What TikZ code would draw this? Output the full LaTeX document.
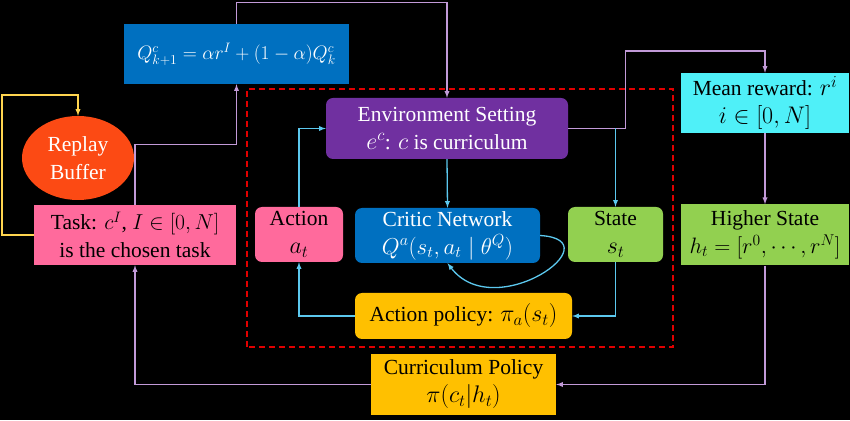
\documentclass[tikz,border=0pt]{standalone}
\usepackage{fix-cm}
\usepackage{fontspec}
\setmainfont{Liberation Serif}
\usetikzlibrary{arrows,shapes,backgrounds,calc,positioning}

\definecolor{qblue}{HTML}{0070C0}
\definecolor{envpurple}{HTML}{7030A0}
\definecolor{taskpink}{HTML}{FF6A9C}
\definecolor{stategreen}{HTML}{92D050}
\definecolor{policyorange}{HTML}{FFC000}
\definecolor{rewardcyan}{HTML}{4FF0F8}
\definecolor{bufferred}{HTML}{FC4A14}
\definecolor{lilac}{HTML}{C29AD8}
\definecolor{skyline}{HTML}{5CC8EE}
\definecolor{loopyellow}{HTML}{FFD54F}
\definecolor{borderred}{HTML}{E00000}

\newcommand{\mth}[2][24]{{\fontsize{#1}{27}\selectfont$#2$}}

\begin{document}
\begin{tikzpicture}[x=1pt, y=1pt, >=latex,
    box/.style={rectangle, align=center, inner sep=0pt, font=\rmfamily\fontsize{21.5}{28}\selectfont},
    rbox/.style={box, rounded corners=7pt},
    pline/.style={->, draw=lilac, line width=1.3pt},
    cline/.style={->, draw=skyline, line width=1.3pt}]

  \fill[black] (0,0) rectangle (850,420);

  % outer loop
  \node[box, fill=qblue, text=white, minimum width=225pt, minimum height=60pt] (Qupdate) at (236.5,366) {\mth[19.5]{Q^c_{k+1} = \alpha r^I + (1-\alpha) Q^c_k}};
  \node[box, fill=taskpink, minimum width=202pt, minimum height=60pt] (Task) at (135,185) {Task: \mth[21.6]{c^I}, \mth[21.6]{I \in [0,N]}\\is the chosen task};
  \node[ellipse, fill=bufferred, text=white, align=center, inner sep=0pt, minimum width=112pt, minimum height=84pt, font=\rmfamily\fontsize{21.5}{28}\selectfont] (Replay) at (78,262) {Replay\\Buffer};
  \node[box, fill=rewardcyan, minimum width=168pt, minimum height=60pt] (Mean) at (765,317) {Mean reward: \mth{r^i}\\\mth{i \in [0,N]}};
  \node[box, fill=stategreen, minimum width=168pt, minimum height=61pt, below=71pt of Mean] (Higher) {Higher State\\\mth[22.3]{h_t = [r^0, \cdots, r^N]}};
  \node[box, fill=policyorange, minimum width=185pt, minimum height=61pt] (CPolicy) at (463.5,35.5) {Curriculum Policy\\\mth{\pi(c_t|h_t)}};

  % inner loop
  \node[rbox, fill=envpurple, text=white, minimum width=242pt, minimum height=61pt] (Env) at (447,291.5) {Environment Setting\\\mth{e^c}: \mth{c} is curriculum};
  \node[rbox, fill=taskpink, minimum width=88pt, minimum height=55pt] (Action) at (299,185.5) {Action\\\mth{a_t}};
  \node[rbox, fill=qblue, text=white, minimum width=185pt, minimum height=55pt] (Critic) at (447.5,184.5) {Critic Network\\\mth[23]{Q^a(s_t, a_t \mid \theta^Q)}};
  \node[rbox, fill=stategreen, minimum width=95pt, minimum height=55pt] (State) at (615.5,185.5) {State\\\mth{s_t}};
  \node[rbox, fill=policyorange, minimum width=217pt, minimum height=46pt] (APolicy) at (463.5,104) {Action policy: \mth{\pi_a(s_t)}};

  \draw[borderred, dashed, line width=1.3pt, dash pattern=on 6pt off 4pt] (247,73) rectangle (673,331);

  \draw[->, draw=loopyellow, line width=1.3pt] (Task.west) -- (2,185) |- (78,325) -- (Replay.north);
  \draw[pline] (Task.north) -- ++(0,60) -| (Qupdate.south);
  \draw[pline] (Qupdate.north) -- ++(0,21) -| (Env.north);
  \draw[pline] (Env.east) -- ++(57,0) -- ++(0,77.5) -| (Mean.north);
  \draw[pline] (Mean.south) -- (Higher.north);
  \draw[pline] (Higher.south) |- (CPolicy.east);
  \draw[pline] (CPolicy.west) -| (Task.south);

  \draw[cline] (Env.south) -- (Critic.north);
  \draw[cline] (Env.east -| State.north) -- (State.north);
  \draw[cline] (State.south) |- (APolicy.east);
  \draw[cline] (APolicy.west) -| (Action.south);
  \draw[cline] (Action.north) |- (Env.west);
  \draw[cline] (Critic.east) .. controls (615,180) and (495,95) .. (Critic.south);

\end{tikzpicture}
\end{document}
